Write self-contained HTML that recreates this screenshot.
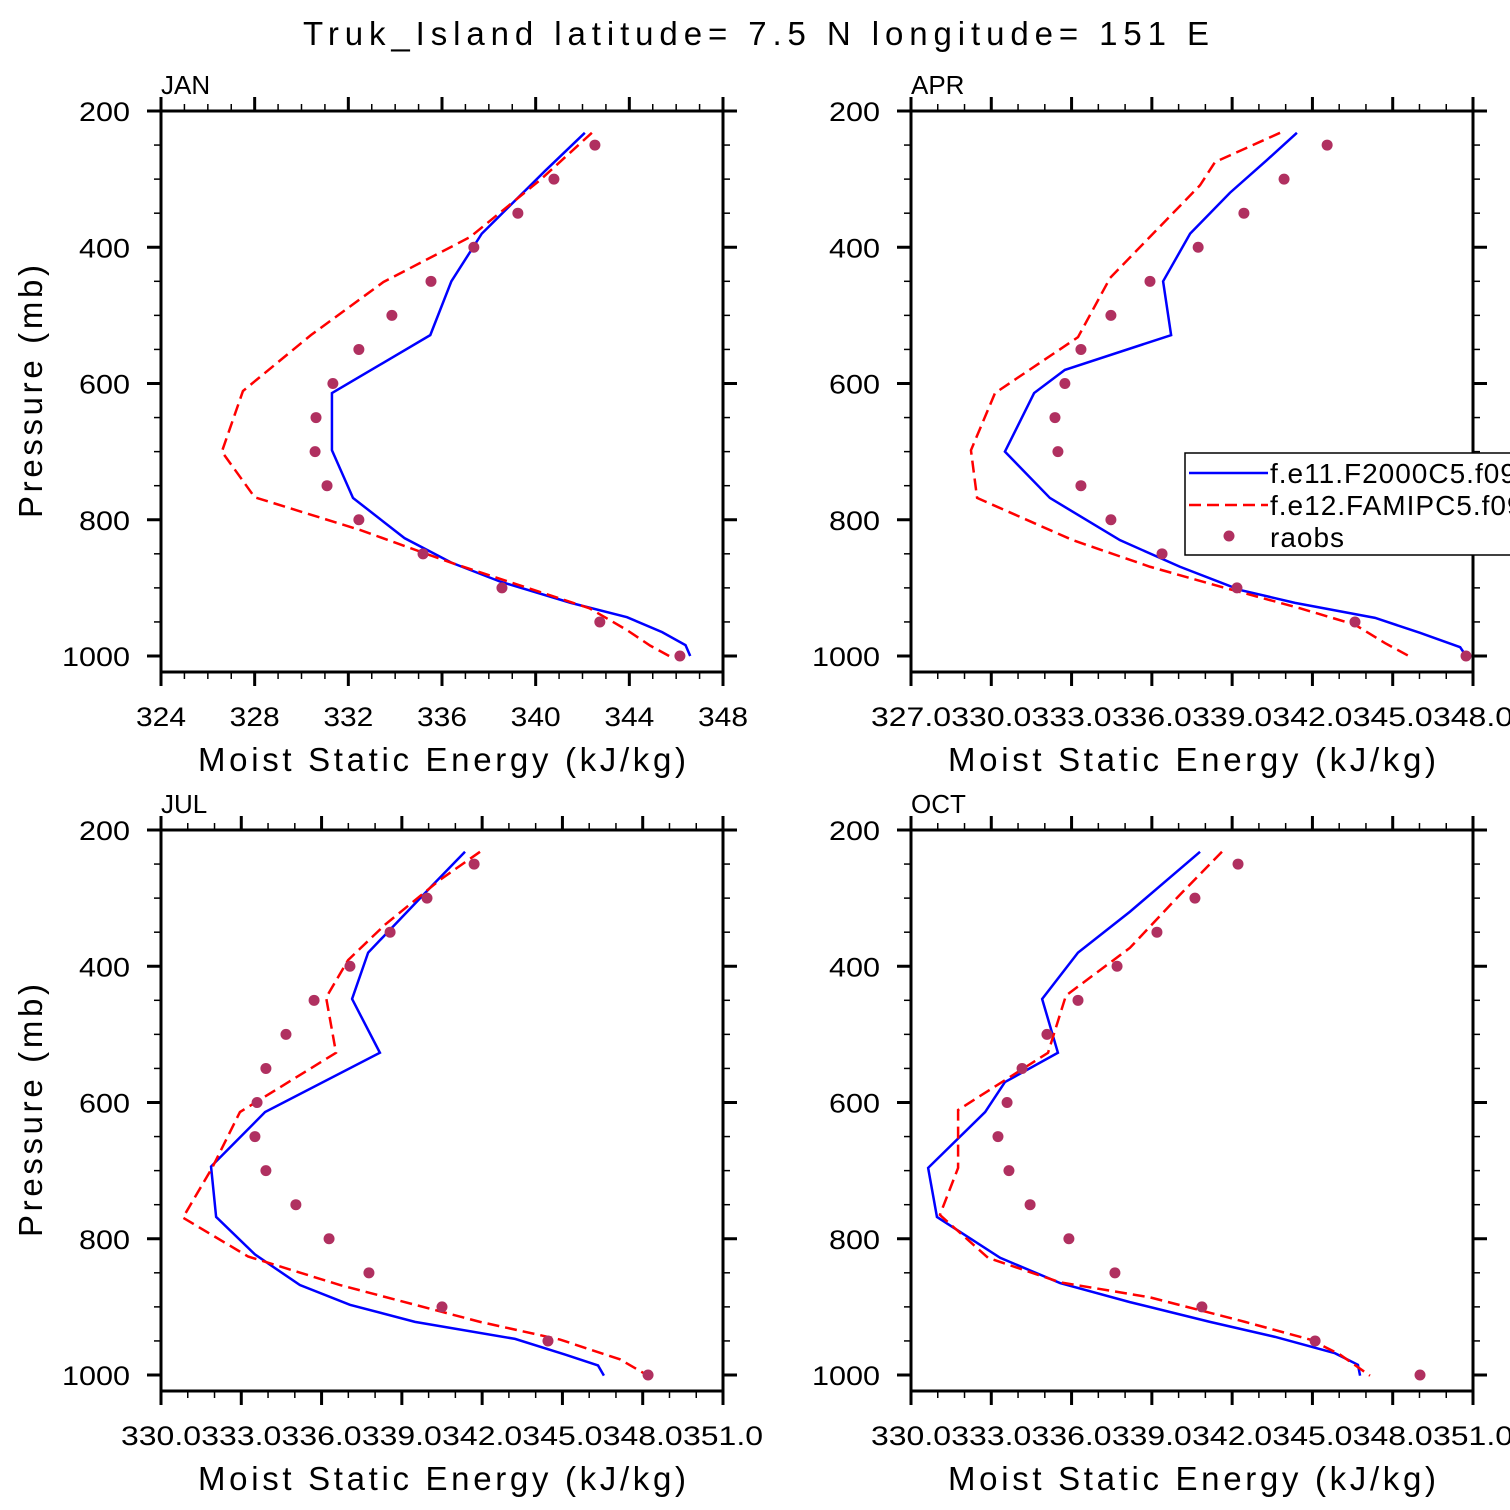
<!DOCTYPE html>
<html><head><meta charset="utf-8"><style>
html,body{margin:0;padding:0;background:#fff;}
svg{display:block;font-family:"Liberation Sans",sans-serif;}
</style></head><body>
<svg id="chart" width="1510" height="1510" viewBox="0 0 1510 1510" xmlns="http://www.w3.org/2000/svg">
<rect width="1510" height="1510" fill="#fff"/>
<text x="756" y="45" text-anchor="middle" font-size="33" textLength="906" lengthAdjust="spacing">Truk_Island  latitude= 7.5 N longitude= 151 E</text>
</svg>
<script>
// ---- data ----
const panelNames = ["JAN","APR","JUL","OCT"];
const xMins = [324, 327, 330, 330];
const xMaxs = [348, 348, 351, 351];
const xMajorSteps = [4, 3, 3, 3];
const xMinorSteps = [1, 1, 1, 1];
const xTickDecimals = [0, 1, 1, 1];
const pressureTicks = [200, 400, 600, 800, 1000];
const obsLevels = [250,300,350,400,450,500,550,600,650,700,750,800,850,900,950,1000];

const janBlueP = [232,288,380,450,529,614,698,768,827,863,891,922,943,965,984,1000];
const janBlueV = [342.1,340.4,337.7,336.4,335.5,331.3,331.3,332.2,334.4,336.4,338.5,341.5,343.9,345.4,346.4,346.6];
const janRedP = [232,301,385,451,529,611,700,767,815,862,896,930,962,985,1000];
const janRedV = [342.4,340.2,337.2,333.5,330.4,327.5,326.6,328.0,332.5,336.3,339.3,342.3,343.9,344.9,345.7];
const janObs = [342.53,340.78,339.24,337.36,335.53,333.86,332.45,331.34,330.62,330.58,331.09,332.45,335.19,338.56,342.74,346.16];

const aprBlueP = [232,272,320,380,450,529,580,614,700,768,830,869,903,922,944,966,987,1000];
const aprBlueV = [341.42,340.3,338.92,337.43,336.42,336.72,332.75,331.6,330.51,332.19,334.81,337.05,339.29,341.35,344.34,346.02,347.52,347.74];
const aprRedP = [232,275,309,445,532,614,698,768,830,869,900,930,954,981,1001];
const aprRedV = [340.79,338.36,337.8,334.44,333.24,330.14,329.24,329.47,333.05,335.93,338.73,341.54,343.59,344.71,345.65];
const aprObs = [342.55,340.94,339.44,337.73,335.93,334.47,333.35,332.75,332.38,332.49,333.35,334.47,336.38,339.18,343.59,347.74];

const julBlueP = [232,285,380,448,527,614,694,768,823,868,897,922,947,970,986,1001];
const julBlueV = [341.36,340.05,337.74,337.14,338.18,333.89,331.87,332.06,333.51,335.19,337.06,339.49,343.23,345.10,346.33,346.55];
const julRedP = [232,273,339,391,446,527,614,696,769,826,868,922,948,977,1001];
const julRedV = [341.92,340.43,338.37,336.99,336.17,336.54,332.95,331.91,330.82,333.25,336.69,341.92,344.91,347.15,348.20];
const julObs = [341.70,339.94,338.56,337.06,335.72,334.67,333.92,333.59,333.51,333.92,335.04,336.28,337.77,340.50,344.46,348.20];

const octBlueP = [232,320,380,448,527,570,614,696,768,828,865,893,922,944,968,985,1001];
const octBlueV = [340.80,338.18,336.24,334.90,335.49,333.51,332.77,330.64,330.97,333.33,335.57,338.18,341.17,343.60,345.84,346.70,346.78];
const octRedP = [232,295,373,443,527,611,696,765,828,864,886,922,948,970,1001];
const octRedV = [341.62,340.05,338.18,335.79,335.12,331.76,331.76,331.08,332.88,335.57,338.93,342.48,344.91,346.03,347.15];
const octObs = [342.22,340.61,339.19,337.70,336.24,335.08,334.15,333.59,333.25,333.66,334.45,335.90,337.62,340.87,345.10,349.02];

const legendLabels = ["f.e11.F2000C5.f09f09","f.e12.FAMIPC5.f09f09","raobs"];

// ---- drawing ----
const svg = document.getElementById('chart');
const NS = 'http://www.w3.org/2000/svg';
function mk(tag, attrs, parent){ const e=document.createElementNS(NS,tag); for(const k in attrs) e.setAttribute(k,attrs[k]); (parent||svg).appendChild(e); return e; }

const boxes = [
  {x0:161,x1:723,y200:111,y1000:656,yb:672},
  {x0:911,x1:1473,y200:111,y1000:656,yb:672},
  {x0:161,x1:723,y200:830,y1000:1375,yb:1391},
  {x0:911,x1:1473,y200:830,y1000:1375,yb:1391}
];
const series = [
  [janBlueP,janBlueV,janRedP,janRedV,janObs],
  [aprBlueP,aprBlueV,aprRedP,aprRedV,aprObs],
  [julBlueP,julBlueV,julRedP,julRedV,julObs],
  [octBlueP,octBlueV,octRedP,octRedV,octObs]
];

for(let i=0;i<4;i++){
  const b=boxes[i], xmin=xMins[i], xmax=xMaxs[i];
  const xs = v => b.x0 + (v-xmin)/(xmax-xmin)*(b.x1-b.x0);
  const ys = p => b.y200 + (p-200)/800*(b.y1000-b.y200);
  const g = mk('g',{});
  
  
  const [bp,bv,rp,rv,ob]=series[i];
  const blue = mk('polyline',{points:bp.map((p,k)=>xs(bv[k])+','+ys(p)).join(' '),fill:'none',stroke:'#0000ff','stroke-width':2.5},g);
  
  
  const red = mk('polyline',{points:rp.map((p,k)=>xs(rv[k])+','+ys(p)).join(' '),fill:'none',stroke:'#ff0000','stroke-width':2.5,'stroke-dasharray':'12,6'},g);
  
  
  obsLevels.forEach((p,k)=>{
    const c = mk('circle',{cx:xs(ob[k]),cy:ys(p),r:5.5,fill:'#b03060'},g);
    
    
  });
  if(i===1){
    const lg = mk('g',{});
    
    
    mk('rect',{x:1185,y:453,width:340,height:102,fill:'#fff',stroke:'#000','stroke-width':1.5},lg);
    mk('line',{x1:1189,y1:473,x2:1268,y2:473,stroke:'#0000ff','stroke-width':2.5},lg);
    mk('line',{x1:1189,y1:505,x2:1268,y2:505,stroke:'#ff0000','stroke-width':2.5,'stroke-dasharray':'12,6'},lg);
    mk('circle',{cx:1229,cy:536,r:5.5,fill:'#b03060'},lg);
    [482,514,546].forEach((y,k)=>{
      const t=mk('text',{x:1270,y:y+1,'font-size':28,'letter-spacing':'1'},lg); t.textContent=legendLabels[k];
      
      
    });
  }
  const fr = mk('rect',{x:b.x0,y:b.y200,width:b.x1-b.x0,height:b.yb-b.y200,fill:'none',stroke:'#000','stroke-width':3},g);
  
  
  for(let p=200;p<=1000;p+=50){
    const maj = p%200===0, y=ys(p), L=maj?14:7;
    mk('line',{x1:b.x0-L,y1:y,x2:b.x0,y2:y,stroke:'#000','stroke-width':maj?3:1.5},g);
    mk('line',{x1:b.x1,y1:y,x2:b.x1+L,y2:y,stroke:'#000','stroke-width':maj?3:1.5},g);
  }
  pressureTicks.forEach(p=>{
    const s=String(p);
    const t=mk('text',{x:b.x0-31,y:ys(p)+10,'text-anchor':'end','font-size':27,textLength:17*s.length,lengthAdjust:'spacingAndGlyphs'},g); t.textContent=s;
    
    
  });
  const n = Math.round((xmax-xmin)/xMinorSteps[i]);
  for(let k=0;k<=n;k++){
    const v = xmin + k*xMinorSteps[i];
    const maj = Math.abs(((v-xmin)/xMajorSteps[i]) - Math.round((v-xmin)/xMajorSteps[i]))<1e-6;
    const x=xs(v), L=maj?14:7;
    mk('line',{x1:x,y1:b.yb,x2:x,y2:b.yb+L,stroke:'#000','stroke-width':maj?3:1.5},g);
    mk('line',{x1:x,y1:b.y200-L,x2:x,y2:b.y200,stroke:'#000','stroke-width':maj?3:1.5},g);
    if(maj){
      const s=v.toFixed(xTickDecimals[i]);
      const w = xTickDecimals[i]?80:50;
      const t=mk('text',{x:x,y:b.yb+54,'text-anchor':'middle','font-size':27,textLength:w,lengthAdjust:'spacingAndGlyphs'},g); t.textContent=s;
      
      
    }
  }
  const pt=mk('text',{x:b.x0,y:b.y200-17,'font-size':26},g); pt.textContent=panelNames[i];
  
  
  const cx=(b.x0+b.x1)/2;
  const xt=mk('text',{x:cx,y:b.yb+99,'text-anchor':'middle','font-size':33,textLength:488,lengthAdjust:'spacing'},g); xt.textContent='Moist Static Energy (kJ/kg)';
  
  
  if(i%2===0){
    const my=(b.y200+b.yb)/2;
    const yt=mk('text',{x:42,y:my,'text-anchor':'middle','font-size':33,textLength:253,lengthAdjust:'spacing',transform:'rotate(-90 42 '+my+')'},g); yt.textContent='Pressure (mb)';
    
    
  }
}
</script>
</body></html>
